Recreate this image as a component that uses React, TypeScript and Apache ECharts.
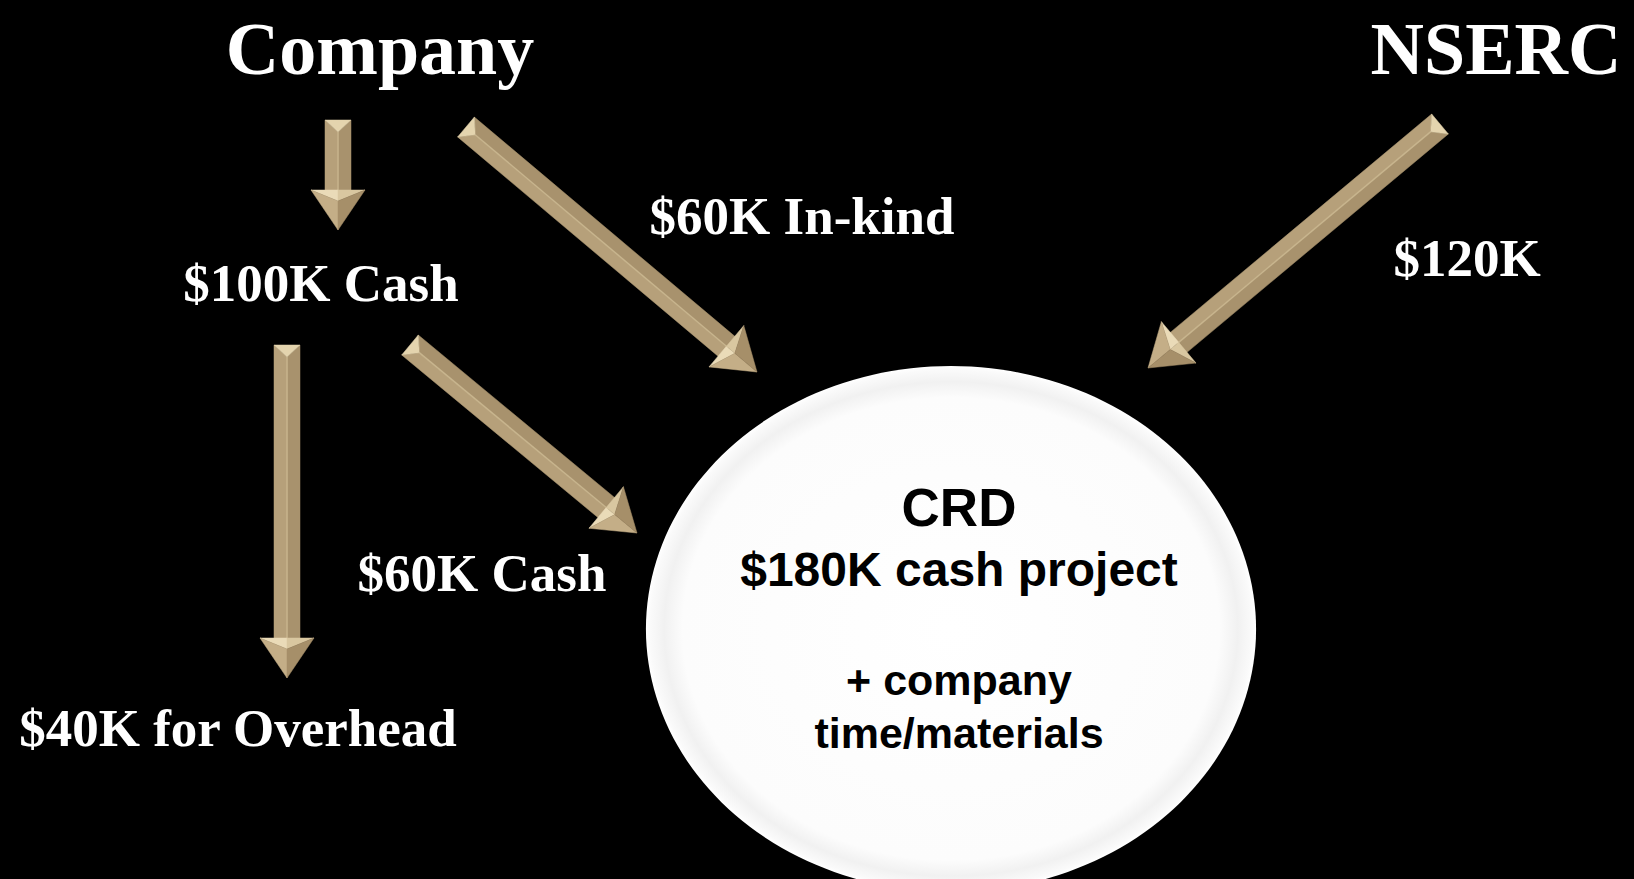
import React, { useEffect, useRef } from "react";
import * as echarts from "echarts";

// Diagram space (pixels of the 1634 x 879 slide)
const SPACE_W = 1634;
const SPACE_H = 879;

// Source titles
const titles = ["Company", "NSERC"];
const titleX = [380, 1496];
const titleY = [49, 49];

// Flow labels
const flowLabels = ["$60K In-kind", "$100K Cash", "$120K", "$60K Cash", "$40K for Overhead"];
const flowLabelX = [802, 321, 1467, 482, 238];
const flowLabelY = [216, 283, 258, 573, 728];

// Arrows: tail centre -> tip
const arrowTail = [
  [338, 120],
  [287, 345],
  [466, 127],
  [410, 345],
  [1440, 124],
];
const arrowTip = [
  [338, 230],
  [287, 678],
  [757, 372],
  [637, 533],
  [1148, 368],
];

// CRD hub
const hubCenter = [951, 629];
const hubRadius = [305, 263];
const hubLines = ["CRD", "$180K cash project", "+ company", "time/materials"];
const hubLineY = [507, 569, 680, 733];
const hubLineSize = [53, 48, 43, 43];

const SERIF = '"Liberation Serif", "Times New Roman", Times, serif';
const SANS = '"Liberation Sans", Arial, Helvetica, sans-serif';

function renderArrow(params: any, api: any) {
  const p = api.coord([api.value(0), api.value(1)]);
  const t = api.coord([api.value(2), api.value(3)]);
  const dx = t[0] - p[0];
  const dy = t[1] - p[1];
  const len = Math.hypot(dx, dy);
  const ux = dx / len;
  const uy = dy / len;
  const nx = -uy;
  const ny = ux;
  const w = 13;
  const h = 27;
  const L = 40;
  const cap = 12;
  const bl = len - L;
  const P = (a: number, b: number) => [p[0] + ux * a + nx * b, p[1] + uy * a + ny * b];
  const poly = (pts: number[][], fill: string) => ({
    type: "polygon",
    shape: { points: pts },
    style: { fill, stroke: fill, lineWidth: 0.5 },
  });
  return {
    type: "group",
    children: [
      poly([P(0, w), P(bl + 2, w), P(bl + 2, 0), P(cap, 0)], "#b6a07a"),
      poly([P(0, -w), P(bl + 2, -w), P(bl + 2, 0), P(cap, 0)], "#a8926d"),
      {
        type: "line",
        shape: { x1: P(cap, 0)[0], y1: P(cap, 0)[1], x2: P(bl, 0)[0], y2: P(bl, 0)[1] },
        style: { stroke: "#c8b58e", lineWidth: 1.5 },
      },
      poly([P(0, w), P(0, -w), P(cap, 0)], "#e4d4ae"),
      poly([P(bl, h), P(bl, 0), P(bl + 11, 0)], "#eadbb8"),
      poly([P(bl, -h), P(bl, 0), P(bl + 11, 0)], "#d9c7a0"),
      poly([P(bl, h), P(bl + 11, 0), P(len, 0)], "#c4ae87"),
      poly([P(bl, -h), P(bl + 11, 0), P(len, 0)], "#a68f69"),
    ],
  };
}

function makeTextRenderer(texts: string[], size: (i: number) => number, family: string, fill: string) {
  return (params: any, api: any) => {
    const i = params.dataIndex;
    const c = api.coord([api.value(0), api.value(1)]);
    return {
      type: "text",
      x: c[0],
      y: c[1],
      style: {
        text: texts[i],
        fill,
        fontFamily: family,
        fontWeight: "bold",
        fontSize: size(i),
        align: "center",
        verticalAlign: "middle",
      },
    };
  };
}

export default function App() {
  const ref = useRef<HTMLDivElement>(null);

  useEffect(() => {
    document.body.style.margin = "0";
    document.body.style.background = "#000";
    if (!ref.current) return;
    const chart = echarts.init(ref.current, null, { renderer: "svg" });

    const option: any = {
      animation: false,
      backgroundColor: "#000000",
      grid: { left: 0, right: 0, top: 0, bottom: 0 },
      xAxis: { type: "value", min: 0, max: SPACE_W, show: false },
      yAxis: { type: "value", min: 0, max: SPACE_H, inverse: true, show: false },
      series: [
        {
          type: "custom",
          name: "CRD",
          silent: true,
          data: [[hubCenter[0], hubCenter[1], hubRadius[0], hubRadius[1]]],
          renderItem: (params: any, api: any) => {
            const c = api.coord([api.value(0), api.value(1)]);
            const e = api.coord([api.value(0) + api.value(2), api.value(1) + api.value(3)]);
            const rx = Math.abs(e[0] - c[0]);
            const ry = Math.abs(e[1] - c[1]);
            return {
              type: "circle",
              x: c[0],
              y: c[1],
              scaleX: rx / ry,
              shape: { cx: 0, cy: 0, r: ry },
              style: {
                fill: new echarts.graphic.RadialGradient(0.5, 0.5, 0.5, [
                  { offset: 0, color: "#ffffff" },
                  { offset: 0.88, color: "#fcfcfc" },
                  { offset: 0.94, color: "#f1f1f1" },
                  { offset: 0.985, color: "#fafafa" },
                  { offset: 1, color: "#ffffff" },
                ]),
              },
            };
          },
        },
        {
          type: "custom",
          name: "arrows",
          silent: true,
          data: arrowTail.map((t, i) => [t[0], t[1], arrowTip[i][0], arrowTip[i][1]]),
          renderItem: renderArrow,
        },
        {
          type: "custom",
          name: "titles",
          silent: true,
          data: titles.map((_, i) => [titleX[i], titleY[i]]),
          renderItem: makeTextRenderer(titles, () => 74, SERIF, "#ffffff"),
        },
        {
          type: "custom",
          name: "flows",
          silent: true,
          data: flowLabels.map((_, i) => [flowLabelX[i], flowLabelY[i]]),
          renderItem: makeTextRenderer(flowLabels, () => 53, SERIF, "#ffffff"),
        },
        {
          type: "custom",
          name: "hub",
          silent: true,
          data: hubLines.map((_, i) => [hubCenter[0] + 8, hubLineY[i]]),
          renderItem: makeTextRenderer(hubLines, (i) => hubLineSize[i], SANS, "#000000"),
        },
      ],
    };

    chart.setOption(option);
    const onResize = () => chart.resize();
    window.addEventListener("resize", onResize);
    return () => {
      window.removeEventListener("resize", onResize);
      chart.dispose();
    };
  }, []);

  return <div ref={ref} style={{ width: "1634px", height: "879px" }} />;
}
